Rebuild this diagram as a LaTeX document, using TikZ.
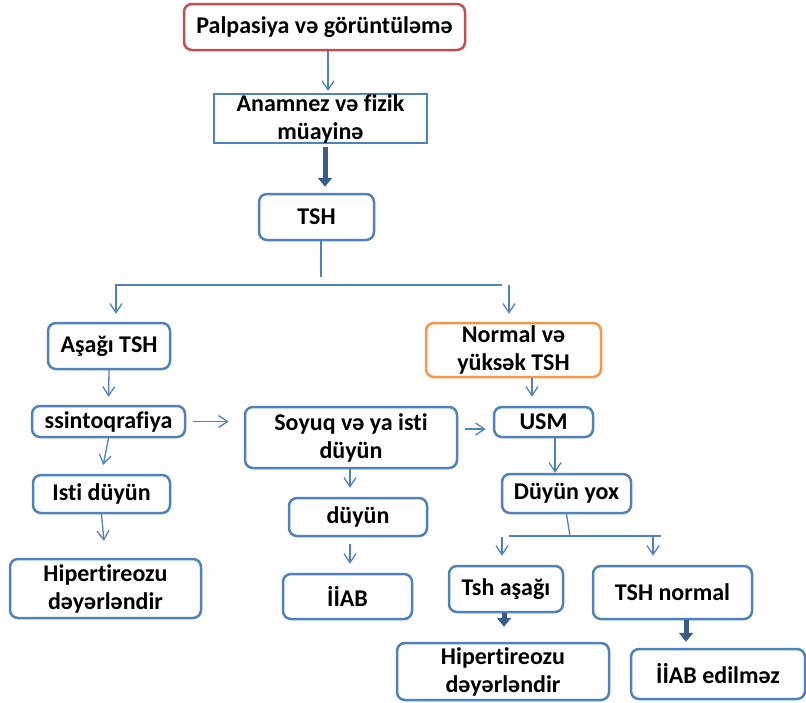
\documentclass[tikz,border=0pt]{standalone}
\usepackage{fontspec}
\setmainfont[Ligatures=NoCommon]{Carlito}
\usetikzlibrary{arrows.meta,positioning}
\definecolor{boxblue}{RGB}{79,129,189}
\definecolor{arrdark}{RGB}{56,93,138}
\definecolor{boxred}{RGB}{192,80,77}
\definecolor{boxorange}{RGB}{247,150,70}

\begin{document}
\begin{tikzpicture}[x=1pt, y=-1pt,
  box/.style={draw=boxblue, line width=2.5pt, rounded corners=8pt, inner sep=0pt, align=center, font=\fontsize{24}{28}\selectfont\bfseries},
  ln/.style={boxblue, line width=1.3pt},
  arr/.style={ln, -{Straight Barb[length=9pt, width=12pt]}},
  thk/.style={arrdark, line width=5pt, -{Triangle[length=9pt, width=14pt]}}
]
  \useasboundingbox (0,0) rectangle (806,702);
  % --- top ---
  \node[box, draw=boxred, minimum width=281pt, minimum height=46pt] (palp) at (324.5,27) {Palpasiya və görüntüləmə};
  \node[box, rounded corners=0pt, minimum width=213pt, minimum height=47pt] (anam) at (320.5,118.5) {Anamnez və fizik\\müayinə};
  \node[box, minimum width=115pt, minimum height=46pt] (tsh) at (316.5,217) {TSH};
  % --- left branch ---
  \node[box, minimum width=122pt, minimum height=46pt] (low) at (109,346) {Aşağı TSH};
  \node[box, minimum width=153pt, minimum height=31pt] (scin) at (108.5,421.5) {ssintoqrafiya};
  \node[box, minimum width=137pt, minimum height=38pt] (hot) at (101.5,494) {Isti düyün};
  \node[box, minimum width=191pt, minimum height=59pt] (hyp) at (105.5,588.5) {Hipertireozu\\dəyərləndir};
  % --- middle ---
  \node[box, minimum width=212pt, minimum height=61pt] (cold) at (351,437.5) {Soyuq və ya isti\\düyün};
  \node[box, minimum width=138pt, minimum height=38pt] (nod) at (358,517) {düyün};
  \node[box, minimum width=129pt, minimum height=45pt] (fna) at (347.5,596.5) {İİAB};
  % --- right branch ---
  \node[box, draw=boxorange, minimum width=175pt, minimum height=54pt] (norm) at (513.5,350) {Normal və\\yüksək TSH};
  \node[box, minimum width=99pt, minimum height=30pt] (usm) at (543.5,422) {USM};
  \node[box, minimum width=129pt, minimum height=39pt] (none) at (566.5,493.5) {Düyün yox};
  \node[box, minimum width=114pt, minimum height=46pt] (tshl) at (506,589) {Tsh aşağı};
  \node[box, minimum width=159pt, minimum height=53pt] (tshn) at (672.5,592.5) {TSH normal};
  \node[box, minimum width=212pt, minimum height=57pt] (hyp2) at (503,671.5) {Hipertireozu\\dəyərləndir};
  \node[box, minimum width=174pt, minimum height=50pt] (nofna) at (718,674) {İİAB edilməz};
  % split points
  \coordinate (stub) at (321,277);
  \coordinate (brL) at (116,285);
  \coordinate (brR) at (502,285);
  \coordinate (brN) at (509,285);
  \coordinate (sp) at (570,536);
  \coordinate (spL) at (509,536);
  \coordinate (spR) at (661,536);
  \coordinate (tlT) at (502,537);
  \coordinate (tnT) at (653,536);
  % connectors
  \draw[arr, shorten >=2pt] ([xshift=3.5pt]palp.south) -- ([xshift=7.5pt]anam.north);
  \draw[thk, shorten <=3pt, shorten >=6pt] ([xshift=4.5pt]anam.south) -- ([xshift=8.5pt]tsh.north);
  \draw[ln] (tsh.south -| stub) -- (stub);
  \draw[arr, shorten >=8pt] (brR) -- (brL) -- (brL |- low.north);
  \draw[arr, shorten >=8pt] (brN) -- (brN |- norm.north);
  \draw[arr, shorten >=8pt] (low.south) -- (scin.north);
  \draw[arr, shorten >=9pt] (scin.south) -- (hot.north);
  \draw[arr, shorten >=17pt] (hot.south) -- (hyp.north);
  \draw[arr, shorten <=7pt, shorten >=15pt] (scin.east) -- (scin.east -| cold.west);
  \draw[arr, shorten <=7pt, shorten >=7pt] ([yshift=8.5pt]cold.east) -- ([yshift=-7pt]usm.west);
  \draw[arr, shorten >=9pt] ([xshift=-1pt]cold.south) -- ([xshift=-8pt]nod.north);
  \draw[arr, shorten <=7pt, shorten >=9pt] ([xshift=-8pt]nod.south) -- ([xshift=2.5pt]fna.north);
  \draw[arr, shorten >=9pt] ([xshift=18.5pt]norm.south) -- ([xshift=-11.5pt]usm.north);
  \draw[arr] ([xshift=11.5pt]usm.south) -- ([xshift=-11.5pt]none.north);
  \draw[ln] (none.south) -- (sp);
  \draw[ln] (spL) -- (spR);
  \draw[arr, shorten >=9pt] (tlT) -- (tlT |- tshl.north);
  \draw[arr, shorten >=9pt] (tnT) -- (tnT |- tshn.north);
  \draw[thk, shorten >=15pt] ([xshift=-2pt]tshl.south) -- ([xshift=1pt]hyp2.north);
  \draw[thk, shorten >=6pt] ([xshift=13.5pt]tshn.south) -- ([xshift=-32pt]nofna.north);
\end{tikzpicture}
\end{document}
